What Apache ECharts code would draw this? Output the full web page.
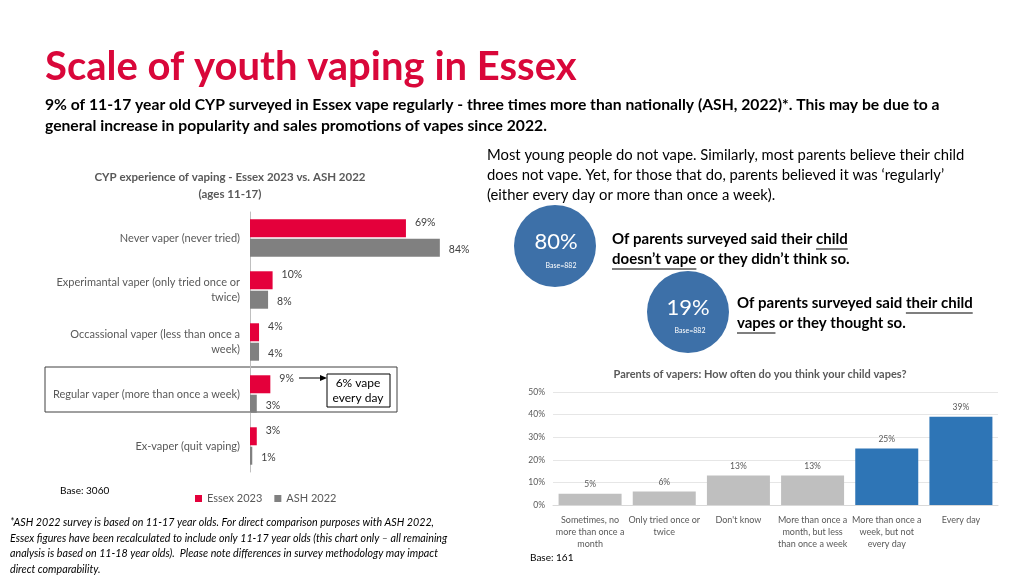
<!DOCTYPE html>
<html><head><meta charset="utf-8">
<script src="https://cdn.jsdelivr.net/npm/echarts@6/dist/echarts.min.js"></script>
<style>html,body{margin:0;background:#fff}#c{width:1024px;height:576px}</style>
</head><body><div id="c"></div>
<script>
// left chart data
const vapeCats = ['Never vaper (never tried)', 'Experimantal vaper (only tried once or\ntwice)', 'Occassional vaper (less than once a\nweek)', 'Regular vaper (more than once a week)', 'Ex-vaper (quit vaping)'];
const essex2023 = [69, 10, 4, 9, 3];
const ash2022 = [84, 8, 4, 3, 1];
// right chart data
const freqCats = ['Sometimes, no\nmore than once a\nmonth', 'Only tried once or\ntwice', "Don't know", 'More than once a\nmonth, but less\nthan once a week', 'More than once a\nweek, but not\nevery day', 'Every day'];
const freqVals = [5, 6, 13, 13, 25, 39];
const freqColors = ['#bfbfbf', '#bfbfbf', '#bfbfbf', '#bfbfbf', '#2e75b6', '#2e75b6'];

const RED = '#d9073a', GREY = '#808080';
const FAM = 'Lato';
const chart = echarts.init(document.getElementById('c'));

const txt = (x, y, text, o) => ({ type: 'text', x, y, style: Object.assign({ text, fontFamily: FAM, fontSize: 12, fill: '#404040', verticalAlign: 'top' }, o) });

// measure text to place underlined pieces
const ctx = document.createElement('canvas').getContext('2d');
const tw = (s) => { ctx.font = 'bold 15px ' + FAM; return ctx.measureText(s).width; };
// pieces of a line: [text, underlined]
const boldLine = (x, y, parts) => {
  const out = [];
  let cx = x;
  parts.forEach(([s, u]) => {
    out.push(txt(cx, y, s, { fontWeight: 'bold', fontSize: 15, fill: '#000' }));
    if (u) out.push({ type: 'line', shape: { x1: cx, y1: y + 17, x2: cx + tw(s.trimEnd()), y2: y + 17 }, style: { stroke: '#000', lineWidth: 1.2 } });
    cx += tw(s);
  });
  return out;
};

chart.setOption({
  animation: false,
  textStyle: { fontFamily: FAM },
  legend: {
    left: 190, top: 488, itemWidth: 7, itemHeight: 7, itemGap: 12, icon: 'rect',
    textStyle: { fontSize: 11, color: '#595959' },
    data: ['Essex 2023', 'ASH 2022']
  },
  grid: [
    { left: 250, top: 212, width: 226, height: 260 },
    { left: 553, top: 392, width: 445, height: 113 }
  ],
  xAxis: [
    { gridIndex: 0, type: 'value', min: 0, max: 100, show: false },
    { gridIndex: 1, type: 'category', data: freqCats, axisTick: { show: false },
      axisLine: { lineStyle: { color: '#d9d9d9' } },
      axisLabel: { fontSize: 9, color: '#595959', interval: 0, lineHeight: 12, margin: 9 } }
  ],
  yAxis: [
    { gridIndex: 0, type: 'category', data: vapeCats, inverse: true,
      axisTick: { show: false }, axisLine: { lineStyle: { color: '#bfbfbf' } },
      axisLabel: { fontSize: 11, color: '#595959', margin: 10, lineHeight: 15 } },
    { gridIndex: 1, type: 'value', min: 0, max: 50, interval: 10,
      axisLabel: { fontSize: 8.5, color: '#595959', formatter: '{value}%' },
      splitLine: { lineStyle: { color: '#e6e6e6' } } }
  ],
  series: [
    { name: 'Essex 2023', type: 'bar', xAxisIndex: 0, yAxisIndex: 0, data: essex2023,
      itemStyle: { color: '#e4003b' }, barWidth: 18, barGap: '8%',
      label: { show: true, position: 'right', formatter: '{c}%', fontSize: 10.5, color: '#404040', offset: [4, -6] } },
    { name: 'ASH 2022', type: 'bar', xAxisIndex: 0, yAxisIndex: 0, data: ash2022,
      itemStyle: { color: GREY }, barWidth: 18,
      label: { show: true, position: 'right', formatter: '{c}%', fontSize: 10.5, color: '#404040', offset: [4, 2] } },
    { type: 'bar', xAxisIndex: 1, yAxisIndex: 1, barWidth: 63,
      data: freqVals.map((v, i) => ({ value: v, itemStyle: { color: freqColors[i] } })),
      label: { show: true, position: 'top', formatter: '{c}%', fontSize: 8.5, color: '#595959' } }
  ],
  graphic: [
    txt(45, 47, 'Scale of youth vaping in Essex', { fontWeight: 'bold', fontSize: 40, fill: RED }),
    txt(45, 97, '9% of 11-17 year old CYP surveyed in Essex vape regularly - three times more than nationally (ASH, 2022)*. This may be due to a', { fontWeight: 'bold', fontSize: 15.7, fill: '#000' }),
    txt(45, 118, 'general increase in popularity and sales promotions of vapes since 2022.', { fontWeight: 'bold', fontSize: 15.7, fill: '#000' }),
    txt(487, 145, 'Most young people do not vape. Similarly, most parents believe their child\ndoes not vape. Yet, for those that do, parents believed it was \u2018regularly\u2019\n(either every day or more than once a week).', { fontSize: 14.8, fill: '#000', lineHeight: 20 }),
    txt(230, 169, 'CYP experience of vaping - Essex 2023 vs. ASH 2022\n(ages 11-17)', { fontWeight: 'bold', fontSize: 11.5, fill: '#595959', align: 'center', lineHeight: 17 }),
    { type: 'rect', shape: { x: 45, y: 367, width: 352, height: 45 }, style: { fill: 'none', stroke: '#404040', lineWidth: 1 } },
    { type: 'rect', shape: { x: 327, y: 374, width: 63, height: 33 }, style: { fill: '#fff', stroke: '#000', lineWidth: 1 } },
    txt(358, 376, '6% vape\nevery day', { fontSize: 12, fill: '#000', align: 'center', lineHeight: 15 }),
    { type: 'line', shape: { x1: 299, y1: 378, x2: 322, y2: 378 }, style: { stroke: '#000', lineWidth: 1 } },
    { type: 'polygon', shape: { points: [[327, 378], [320, 375], [320, 381]] }, style: { fill: '#000' } },
    txt(60, 486, 'Base: 3060', { fontSize: 10, fill: '#000' }),
    txt(10, 515, '*ASH 2022 survey is based on 11-17 year olds. For direct comparison purposes with ASH 2022,\nEssex figures have been recalculated to include only 11-17 year olds (this chart only \u2013 all remaining\nanalysis is based on 11-18 year olds).  Please note differences in survey methodology may impact\ndirect comparability.', { fontStyle: 'italic', fontSize: 10.7, fill: '#000', lineHeight: 15.5 }),
    { type: 'circle', shape: { cx: 555, cy: 246, r: 41 }, style: { fill: '#3d70a8' } },
    txt(556, 231, '80%', { fontSize: 22, fill: '#fff', align: 'center' }),
    txt(561, 262, 'Base=882', { fontSize: 7, fill: '#fff', align: 'center' }),
    ...boldLine(612, 232, [['Of parents surveyed said their ', false], ['child', true]]),
    ...boldLine(612, 252, [['doesn\u2019t vape ', true], ['or they didn\u2019t think so.', false]]),
    { type: 'circle', shape: { cx: 688, cy: 312, r: 41 }, style: { fill: '#3d70a8' } },
    txt(688, 297, '19%', { fontSize: 22, fill: '#fff', align: 'center' }),
    txt(690, 327, 'Base=882', { fontSize: 7, fill: '#fff', align: 'center' }),
    ...boldLine(737, 296, [['Of parents surveyed said ', false], ['their child', true]]),
    ...boldLine(737, 316, [['vapes ', true], ['or they thought so.', false]]),
    txt(760, 369, 'Parents of vapers: How often do you think your child vapes?', { fontWeight: 'bold', fontSize: 11, fill: '#595959', align: 'center' }),
    txt(530, 553, 'Base: 161', { fontSize: 10, fill: '#000' })
  ]
});
</script></body></html>
